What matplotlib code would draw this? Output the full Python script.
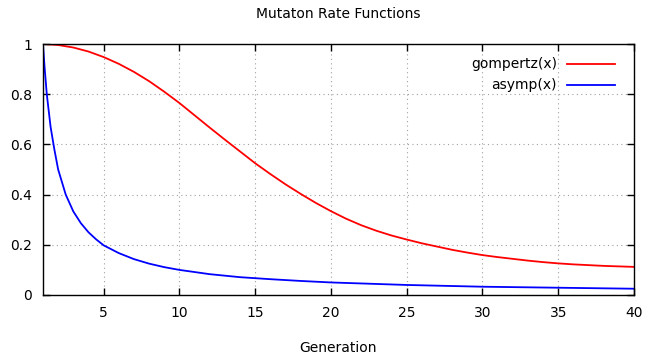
import matplotlib
matplotlib.use("Agg")
import matplotlib.pyplot as plt

# ---------------------------------- DATA ----------------------------------#
gompertz_x = list(range(1, 41))
gompertz_y = [1.000, 0.996, 0.986, 0.970, 0.948, 0.921, 0.889, 0.852, 0.810, 0.765,
              0.716, 0.667, 0.619, 0.572, 0.525, 0.482, 0.441, 0.403, 0.367, 0.334,
              0.304, 0.278, 0.256, 0.237, 0.221, 0.206, 0.193, 0.180, 0.169, 0.159,
              0.151, 0.144, 0.137, 0.131, 0.126, 0.122, 0.119, 0.116, 0.114, 0.112]

asymp_x = [1, 1.1, 1.25, 1.5, 1.75, 2, 2.5, 3, 3.5, 4, 4.5, 5, 6, 7, 8, 9, 10,
           12, 14, 16, 18, 20, 25, 30, 35, 40]
asymp_y = [1.0, 0.91, 0.80, 0.67, 0.58, 0.50, 0.40, 0.333, 0.286, 0.25, 0.222, 0.198,
           0.167, 0.143, 0.125, 0.111, 0.10, 0.083, 0.071, 0.063, 0.056, 0.05,
           0.04, 0.033, 0.029, 0.025]

x_ticks = [5, 10, 15, 20, 25, 30, 35, 40]
y_ticks = [0, 0.2, 0.4, 0.6, 0.8, 1]
y_labels = ["0", "0.2", "0.4", "0.6", "0.8", "1"]

# ---------------------------------- PLOT ----------------------------------#
plt.rcParams['font.family'] = ['DejaVu Sans']
fig = plt.figure(figsize=(6.46, 3.56), dpi=100)
ax = fig.add_axes([43 / 646, 1 - 295 / 356, (634 - 43) / 646, (295 - 44) / 356])

ax.plot(gompertz_x, gompertz_y, color="#ff0000", lw=1.3, label="gompertz(x)")
ax.plot(asymp_x, asymp_y, color="#0000ff", lw=1.3, label="asymp(x)")

ax.set_xlim(1, 40)
ax.set_ylim(0, 1)
ax.set_xticks(x_ticks)
ax.set_yticks(y_ticks)
ax.set_yticklabels(y_labels)
ax.tick_params(direction="in", length=5, width=1, top=True, right=True,
               labelsize=10, pad=8, colors="black")
ax.grid(True, linestyle=(0, (1, 3)), color="#a0a0a0", lw=0.8)
for s in ax.spines.values():
    s.set_linewidth(1)

ax.set_title("Mutaton Rate Functions", fontsize=10, pad=19)
ax.set_xlabel("Generation", fontsize=10, labelpad=15)

ax.legend(loc="upper right", bbox_to_anchor=(1, 1.024), frameon=False, markerfirst=False,
          fontsize=10, handlelength=3.45, borderaxespad=1.0, labelspacing=0.5,
          handletextpad=0.7)

fig.savefig("out.png", dpi=100)
